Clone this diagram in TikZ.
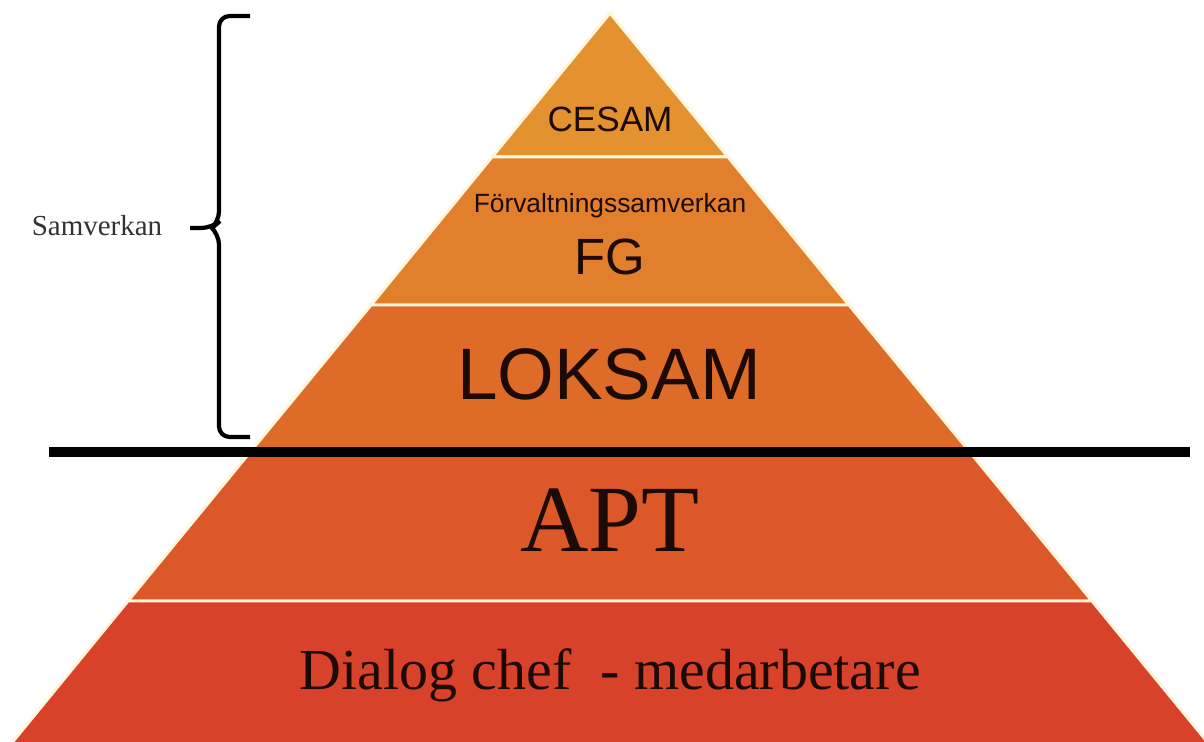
\documentclass[tikz,border=0pt]{standalone}
\usepackage{fontspec}
\setmainfont{Liberation Serif}
\newfontfamily\arialfont{Liberation Sans}
\usepackage{xcolor}
\usetikzlibrary{positioning}

\definecolor{cesamcol}{RGB}{227,146,47}
\definecolor{fgcol}{RGB}{226,127,45}
\definecolor{loksamcol}{RGB}{222,107,39}
\definecolor{aptcol}{RGB}{220,88,40}
\definecolor{dialogcol}{RGB}{217,66,42}
\definecolor{gapcol}{RGB}{255,246,220}
\definecolor{inkcol}{RGB}{28,10,6}

\tikzset{
  band/.style={draw=gapcol, line width=1.7pt, line join=miter},
  sanslabel/.style={anchor=base, inner sep=0pt, text=inkcol, font=\arialfont},
  seriflabel/.style={anchor=base, inner sep=0pt, text=inkcol},
  bracepath/.style={line width=2.4pt, rounded corners=6pt},
}

\begin{document}
\begin{tikzpicture}[x=0.02cm, y=-0.02cm]
  \useasboundingbox (0,0) rectangle (1204,742);
  \clip (0,0) rectangle (1204,742);

  % Pyramid bands
  \filldraw[band, fill=cesamcol]  (610,13) -- (728,157) -- (492,157) -- cycle;
  \filldraw[band, fill=fgcol]     (492,157) -- (728,157) -- (849,305) -- (371,305) -- cycle;
  \filldraw[band, fill=loksamcol] (371,305) -- (849,305) -- (969,451) -- (251,451) -- cycle;
  \filldraw[band, fill=aptcol]    (251,451) -- (969,451) -- (1092,601) -- (128,601) -- cycle;
  \filldraw[band, fill=dialogcol] (128,601) -- (1092,601) -- (1214,750) -- (6,750) -- cycle;

  % Band labels
  \node[sanslabel, font=\arialfont\fontsize{20}{24}\selectfont] (cesam) at (610,132) {CESAM};
  \node[sanslabel, font=\arialfont\fontsize{15}{18}\selectfont] (forv) at (610,213) {Förvaltningssamverkan};
  \node[sanslabel, font=\arialfont\fontsize{29}{34}\selectfont] (fg) at (610,275) {FG};
  \node[sanslabel, font=\arialfont\fontsize{41.5}{48}\selectfont] (loksam) at (609,400) {LOKSAM};
  \node[seriflabel, font=\fontsize{54}{62}\selectfont] (apt) at (610,552) {APT};
  \node[seriflabel, font=\fontsize{33}{40}\selectfont] (dialog) at (610,690) {Dialog chef \ - medarbetare};

  % Divider
  \coordinate (divL) at (49,452);
  \coordinate (divR) at (1190,452);
  \draw[line width=5.6pt] (divL) -- (divR);

  % Brace
  \coordinate (braceTop) at (250,16);
  \coordinate (braceBot) at (250,437);
  \coordinate (braceTip) at (190,228);
  \draw[bracepath] (braceTop) -| (219,222) -- (212,228) -- (braceTip);
  \draw[bracepath] (212,228) -- (219,234) |- (braceBot);
  \node[anchor=base, inner sep=0pt, text=black!80, font=\fontsize{16.5}{20}\selectfont]
    (samv) at (97,236) {Samverkan};
\end{tikzpicture}
\end{document}
